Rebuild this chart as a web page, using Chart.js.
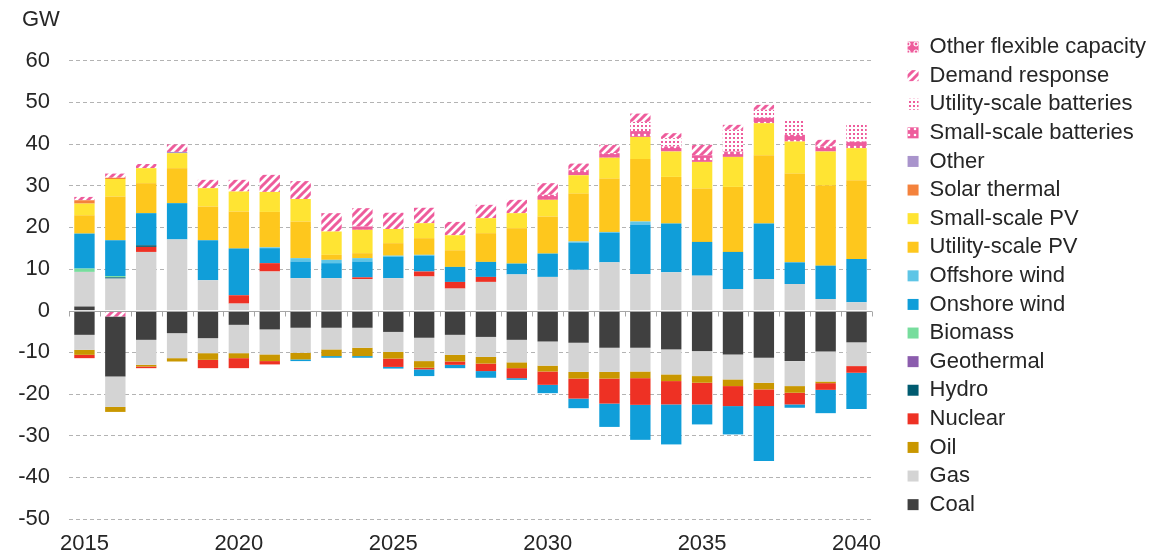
<!DOCTYPE html>
<html>
<head>
<meta charset="utf-8">
<script src="https://cdn.jsdelivr.net/npm/chart.js@4.4.1/dist/chart.umd.min.js"></script>
<style>
  body { margin: 0; background: #fff; }
  .chartBox { width: 1176px; height: 557px; }
</style>
</head>
<body>
<div class="chartBox"><canvas id="capacityChart"></canvas></div>
<script>
// years on the x axis
const years = [2015, 2016, 2017, 2018, 2019, 2020, 2021, 2022, 2023, 2024, 2025, 2026, 2027,
  2028, 2029, 2030, 2031, 2032, 2033, 2034, 2035, 2036, 2037, 2038, 2039, 2040];

// capacity additions (GW)
const coalAdd = [1.0, 0, 0, 0, 0, 0, 0, 0, 0, 0, 0, 0, 0, 0, 0, 0, 0, 0, 0, 0, 0, 0, 0, 0, 0, 0];
const gasAdd = [8.3, 7.7, 14.1, 17.1, 7.3, 1.7, 9.4, 7.8, 7.8, 7.6, 7.8, 8.2, 5.3, 6.9, 8.7, 8.1, 9.8, 11.6, 8.8, 9.2, 8.4, 5.2, 7.6, 6.4, 2.8, 2.0];
const oilAdd = [0, 0, 0, 0, 0, 0, 0, 0, 0, 0, 0, 0, 0, 0, 0, 0, 0, 0, 0, 0, 0, 0, 0, 0, 0, 0];
const nuclearAdd = [0, 0, 1.2, 0, 0, 2.0, 2.0, 0, 0, 0.4, 0, 1.2, 1.6, 1.2, 0, 0, 0, 0, 0, 0, 0, 0, 0, 0, 0, 0];
const hydroAdd = [0, 0.3, 0.4, 0, 0, 0, 0, 0, 0, 0, 0, 0, 0, 0, 0, 0, 0, 0, 0, 0, 0, 0, 0, 0, 0, 0];
const geothermalAdd = [0, 0, 0, 0, 0, 0, 0, 0, 0, 0, 0, 0, 0, 0, 0, 0, 0, 0, 0, 0, 0, 0, 0, 0, 0, 0];
const biomassAdd = [0.8, 0.3, 0, 0, 0, 0, 0, 0, 0, 0, 0, 0, 0, 0, 0, 0, 0, 0, 0, 0, 0, 0, 0, 0, 0, 0];
const onshoreAdd = [8.4, 8.6, 7.7, 8.7, 9.6, 11.2, 3.6, 4.0, 3.6, 3.8, 5.1, 3.8, 3.6, 3.6, 2.6, 5.6, 6.5, 7.1, 11.9, 11.7, 8.1, 8.9, 13.3, 5.2, 8.0, 10.4];
const offshoreAdd = [0, 0, 0, 0, 0, 0, 0.2, 0.8, 0.8, 0.8, 0.3, 0.2, 0, 0, 0, 0, 0.3, 0.2, 0.7, 0, 0, 0, 0, 0, 0, 0];
const utilityPvAdd = [4.4, 10.5, 7.2, 8.4, 8.1, 8.9, 8.5, 8.8, 1.2, 1.2, 3.0, 4.0, 4.0, 6.9, 8.5, 8.9, 11.5, 12.8, 15.0, 11.2, 12.8, 15.6, 16.4, 21.3, 19.3, 18.9];
const smallPvAdd = [2.8, 4.2, 3.6, 3.6, 4.4, 4.8, 4.8, 5.4, 5.6, 5.6, 3.4, 3.6, 3.6, 3.6, 3.6, 4.0, 4.4, 5.0, 5.3, 6.1, 6.4, 7.2, 7.7, 7.7, 8.1, 7.7];
const solarThermalAdd = [0.8, 0.3, 0, 0, 0, 0, 0, 0, 0, 0, 0, 0, 0, 0, 0, 0, 0, 0, 0, 0, 0, 0, 0, 0, 0, 0];
const otherAdd = [0, 0, 0, 0.3, 0, 0, 0, 0, 0, 0, 0, 0, 0, 0, 0, 0, 0, 0, 0, 0, 0, 0, 0, 0, 0, 0];
const smallBattAdd = [0, 0, 0, 0, 0, 0, 0, 0, 0, 0.8, 0, 0, 0, 0, 0, 1.2, 1.2, 1.1, 1.4, 1.2, 1.6, 1.3, 1.3, 1.6, 1.2, 1.6];
const utilityBattAdd = [0, 0, 0, 0, 0, 0, 0, 0, 0, 0, 0, 0, 0, 0, 0, 0, 0, 0, 2.2, 2.0, 0, 5.2, 1.9, 3.6, 0, 4.4];
const demandAdd = [0.8, 1.0, 1.0, 1.8, 2.0, 2.8, 4.1, 4.3, 4.4, 4.4, 3.9, 3.7, 3.2, 3.2, 3.2, 2.8, 1.6, 2.0, 2.0, 1.2, 2.5, 1.2, 1.2, 0, 1.6, 0];
const otherFlexAdd = [0, 0, 0, 0, 0, 0, 0, 0, 0, 0, 0, 0, 0, 0, 0, 0, 0, 0, 0, 0, 0, 0, 0, 0, 0, 0];

// retirements (GW, negative)
const demandRet = [0, -1.4, 0, 0, 0, 0, 0, 0, 0, 0, 0, 0, 0, 0, 0, 0, 0, 0, 0, 0, 0, 0, 0, 0, 0, 0];
const coalRet = [-5.8, -14.4, -7.0, -5.4, -6.6, -3.4, -4.5, -4.1, -4.1, -4.1, -5.1, -6.5, -5.8, -6.3, -7.0, -7.4, -7.7, -8.9, -8.9, -9.3, -9.7, -10.5, -11.3, -12.1, -9.8, -7.6];
const gasRet = [-3.6, -7.3, -6.0, -6.0, -3.6, -6.8, -6.0, -6.0, -5.2, -4.8, -4.8, -5.6, -4.8, -4.8, -5.4, -5.8, -7.0, -5.8, -5.7, -6.0, -6.0, -6.0, -6.0, -6.0, -7.2, -5.7];
const oilRet = [-1.2, -1.2, -0.4, -0.8, -1.6, -1.2, -1.6, -1.6, -1.6, -2.0, -1.6, -1.6, -1.6, -1.6, -1.4, -1.4, -1.6, -1.6, -1.6, -1.6, -1.6, -1.6, -1.6, -1.6, -0.4, 0];
const nuclearRet = [-0.8, 0, -0.4, 0, -2.0, -2.4, -0.8, 0, 0, 0, -2.0, -0.4, -0.8, -1.8, -2.4, -3.2, -4.8, -6.0, -6.4, -5.6, -5.2, -4.8, -4.0, -2.8, -1.6, -1.6];
const onshoreRet = [0, 0, 0, 0, 0, 0, 0, -0.4, -0.4, -0.4, -0.4, -1.6, -0.8, -1.6, -0.4, -2.0, -2.3, -5.6, -8.4, -9.6, -4.8, -6.8, -13.2, -0.8, -5.6, -8.7];

const pink = "#ee5c9c";
const fontFamily = '"Liberation Sans", Arial, sans-serif';
const textColor = "#262626";
const fontSize = 22;

// small tile patterns for the flexible capacity series
function makePattern(size, draw) {
  const tile = document.createElement("canvas");
  tile.width = size;
  tile.height = size;
  const g = tile.getContext("2d");
  draw(g, size);
  return g.createPattern(tile, "repeat");
}

const stripes = makePattern(8, (g, s) => {
  g.fillStyle = "#fff";
  g.fillRect(0, 0, s, s);
  g.strokeStyle = pink;
  g.lineWidth = 3;
  g.beginPath();
  g.moveTo(-2, s + 2); g.lineTo(s + 2, -2);
  g.moveTo(-2, 2); g.lineTo(2, -2);
  g.moveTo(s - 2, s + 2); g.lineTo(s + 2, s - 2);
  g.stroke();
});
const pinkDots = makePattern(6, (g, s) => {
  g.fillStyle = pink;
  g.fillRect(0, 0, s, s);
  g.fillStyle = "#fff";
  g.beginPath();
  g.arc(3, 3, 1.3, 0, Math.PI * 2);
  g.fill();
});
const whiteDots = makePattern(4, (g, s) => {
  g.fillStyle = "#fff";
  g.fillRect(0, 0, s, s);
  g.fillStyle = pink;
  g.fillRect(1, 1, 2, 2);
});
const rings = makePattern(8, (g, s) => {
  g.fillStyle = pink;
  g.fillRect(0, 0, s, s);
  g.strokeStyle = "#fff";
  g.lineWidth = 1.2;
  g.beginPath();
  g.arc(4, 4, 2, 0, Math.PI * 2);
  g.stroke();
});

function series(label, data, color, hidden) {
  return { label: label, data: data, backgroundColor: color, borderWidth: 0, hideInLegend: !!hidden };
}

const datasets = [
  series("Demand response", demandRet, stripes, true),
  series("Coal", coalAdd, "#404040"),
  series("Gas", gasAdd, "#d4d4d4"),
  series("Oil", oilAdd, "#c99700"),
  series("Nuclear", nuclearAdd, "#ee3124"),
  series("Hydro", hydroAdd, "#005b70"),
  series("Geothermal", geothermalAdd, "#8b5cad"),
  series("Biomass", biomassAdd, "#77dd9d"),
  series("Onshore wind", onshoreAdd, "#109ed9"),
  series("Offshore wind", offshoreAdd, "#5ec5e6"),
  series("Utility-scale PV", utilityPvAdd, "#fec71d"),
  series("Small-scale PV", smallPvAdd, "#ffe433"),
  series("Solar thermal", solarThermalAdd, "#f4823c"),
  series("Other", otherAdd, "#a994cc"),
  series("Small-scale batteries", smallBattAdd, pinkDots),
  series("Utility-scale batteries", utilityBattAdd, whiteDots),
  series("Demand response", demandAdd, stripes),
  series("Other flexible capacity", otherFlexAdd, rings),
  series("Coal", coalRet, "#404040", true),
  series("Gas", gasRet, "#d4d4d4", true),
  series("Oil", oilRet, "#c99700", true),
  series("Nuclear", nuclearRet, "#ee3124", true),
  series("Onshore wind", onshoreRet, "#109ed9", true)
];

// zero axis line with small ticks between the years, plus the unit label
const zeroAxis = {
  id: "zeroAxis",
  afterDatasetsDraw(chart) {
    const { ctx, chartArea, scales } = chart;
    const y0 = Math.round(scales.y.getPixelForValue(0)) + 0.5;
    const step = (chartArea.right - chartArea.left) / years.length;
    ctx.save();
    ctx.strokeStyle = "#a6a6a6";
    ctx.lineWidth = 1;
    ctx.beginPath();
    ctx.moveTo(chartArea.left, y0);
    ctx.lineTo(chartArea.right, y0);
    for (let i = 0; i <= years.length; i++) {
      const x = Math.round(chartArea.left + i * step) + 0.5;
      ctx.moveTo(x, y0);
      ctx.lineTo(x, y0 + 5);
    }
    ctx.stroke();
    ctx.fillStyle = textColor;
    ctx.font = fontSize + "px " + fontFamily;
    ctx.textAlign = "left";
    ctx.textBaseline = "middle";
    ctx.fillText("GW", scales.y.left + 22, scales.y.getPixelForValue(70) + 1);
    ctx.restore();
  }
};

new Chart(document.getElementById("capacityChart"), {
  type: "bar",
  data: { labels: years, datasets: datasets },
  plugins: [zeroAxis],
  options: {
    responsive: true,
    maintainAspectRatio: false,
    animation: false,
    barPercentage: 0.66,
    categoryPercentage: 1,
    layout: { padding: { top: 19, right: 20, bottom: 0, left: 0 } },
    plugins: {
      tooltip: { enabled: false },
      legend: {
        position: "right",
        align: "start",
        reverse: true,
        maxWidth: 320,
        title: { display: true, text: "", font: { size: 8.7 }, padding: 0 },
        labels: {
          boxWidth: 11,
          boxHeight: 11,
          padding: 6.6,
          color: textColor,
          font: { size: fontSize, family: fontFamily },
          filter: (item, data) => !data.datasets[item.datasetIndex].hideInLegend
        }
      }
    },
    scales: {
      x: {
        stacked: true,
        grid: { display: true, drawOnChartArea: false, drawTicks: true, tickLength: 11.6, tickColor: "rgba(0,0,0,0)" },
        border: { display: false },
        ticks: {
          autoSkip: false,
          maxRotation: 0,
          padding: 0,
          color: textColor,
          font: { size: fontSize, family: fontFamily },
          callback: (v, i) => (years[i] % 5 === 0 ? String(years[i]) : "")
        }
      },
      y: {
        stacked: true,
        min: -50,
        max: 70,
        afterFit: s => { s.width = 69; },
        grid: {
          drawTicks: true,
          tickLength: 19,
          tickColor: "rgba(0,0,0,0)",
          color: c => (c.tick.value === 0 || c.tick.value === 70 ? "rgba(0,0,0,0)" : "#b3b3b3")
        },
        border: { display: false, dash: [4, 3] },
        ticks: {
          stepSize: 10,
          padding: 0,
          color: textColor,
          font: { size: fontSize, family: fontFamily },
          callback: v => (v === 70 ? "" : String(v))
        }
      },
      gap: {
        type: "linear",
        position: "right",
        grid: { display: false },
        border: { display: false },
        ticks: { display: false },
        afterFit: s => { s.width = 29; }
      }
    }
  }
});
</script>
</body>
</html>
